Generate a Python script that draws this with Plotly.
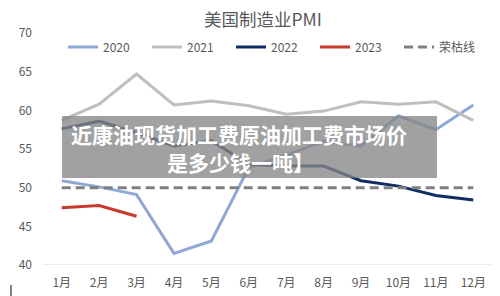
import plotly.graph_objects as go

months = ["1月", "2月", "3月", "4月", "5月", "6月", "7月", "8月", "9月", "10月", "11月", "12月"]
pmi_2020 = [50.9, 50.1, 49.1, 41.5, 43.1, 52.6, 54.2, 56.0, 55.4, 59.3, 57.5, 60.7]
pmi_2021 = [58.7, 60.8, 64.7, 60.7, 61.2, 60.6, 59.5, 59.9, 61.1, 60.8, 61.1, 58.7]
pmi_2022 = [57.6, 58.6, 57.1, 55.4, 56.1, 53.0, 52.8, 52.8, 50.9, 50.2, 49.0, 48.4]
pmi_2023 = [47.4, 47.7, 46.3]
boom_bust = [50] * 12
y_ticks = [40, 45, 50, 55, 60, 65, 70]

W, H = 500, 296
L, R, T, B = 43, 8, 33, 31

fig = go.Figure()
fig.add_trace(go.Scatter(x=months, y=pmi_2020, name="2020", mode="lines",
                         line=dict(color="#8EA9D6", width=3)))
fig.add_trace(go.Scatter(x=months, y=pmi_2021, name="2021", mode="lines",
                         line=dict(color="#BFBFBF", width=3)))
fig.add_trace(go.Scatter(x=months, y=pmi_2022, name="2022", mode="lines",
                         line=dict(color="#102D62", width=3)))
fig.add_trace(go.Scatter(x=months[:len(pmi_2023)], y=pmi_2023, name="2023", mode="lines",
                         line=dict(color="#C73A2C", width=3)))
fig.add_trace(go.Scatter(x=months, y=boom_bust, name="荣枯线", mode="lines",
                         line=dict(color="#808080", width=3, dash="9px,5px")))

def px_x(p):
    return (p - L) / (W - L - R)

def px_y(p):
    return 1 - (p - T) / (H - T - B)

# overlay banner
fig.add_shape(type="rect", xref="paper", yref="paper",
              x0=px_x(62), x1=px_x(437), y0=px_y(178), y1=px_y(116),
              fillcolor="rgba(135,135,135,0.78)", line=dict(width=0), layer="above")
fig.add_annotation(xref="paper", yref="paper", x=px_x(239), y=px_y(134),
                   text="<b>近康油现货加工费原油加工费市场价</b>", showarrow=False,
                   font=dict(family="Noto Sans CJK SC", size=21, color="white"),
                   xanchor="center", yanchor="middle")
fig.add_annotation(xref="paper", yref="paper", x=px_x(240), y=px_y(162),
                   text="<b>是多少钱一吨】</b>", showarrow=False,
                   font=dict(family="Noto Sans CJK SC", size=21, color="white"),
                   xanchor="center", yanchor="middle")

# small mark at bottom-left
fig.add_shape(type="line", xref="paper", yref="paper",
              x0=px_x(11), x1=px_x(11), y0=px_y(285), y1=px_y(296),
              line=dict(color="#595959", width=1.5))

fig.update_layout(
    width=W, height=H,
    margin=dict(l=L, r=R, t=T, b=B),
    paper_bgcolor="white", plot_bgcolor="white",
    title=dict(text="美国制造业PMI", x=263 / W, xanchor="center", y=1 - 20 / H, yanchor="middle",
               font=dict(family="Noto Sans CJK SC", size=17.5, color="#595959")),
    font=dict(family="Noto Sans CJK SC", size=12, color="#595959"),
    showlegend=True,
    legend=dict(orientation="h", x=px_x(63), y=px_y(47), xanchor="left", yanchor="middle",
                bgcolor="rgba(0,0,0,0)", font=dict(size=12, color="#595959"),
                entrywidth=39, entrywidthmode="pixels", itemwidth=30,
                tracegroupgap=0),
    xaxis=dict(type="category", range=[-0.5, 11.5], showgrid=False, zeroline=False,
               showline=False, ticks="", ticklabelstandoff=9, automargin=False,
               tickfont=dict(size=12, color="#595959"), fixedrange=True),
    yaxis=dict(range=[40, 70], tickvals=y_ticks, showgrid=False, zeroline=False,
               showline=False, ticks="", ticklabelstandoff=10, automargin=False,
               tickfont=dict(size=12, color="#595959"), fixedrange=True),
)
# baseline at 40
fig.add_shape(type="line", xref="paper", yref="y", x0=0, x1=1, y0=40, y1=40,
              line=dict(color="#D9D9D9", width=1), layer="below")

fig.write_html("out.html")
